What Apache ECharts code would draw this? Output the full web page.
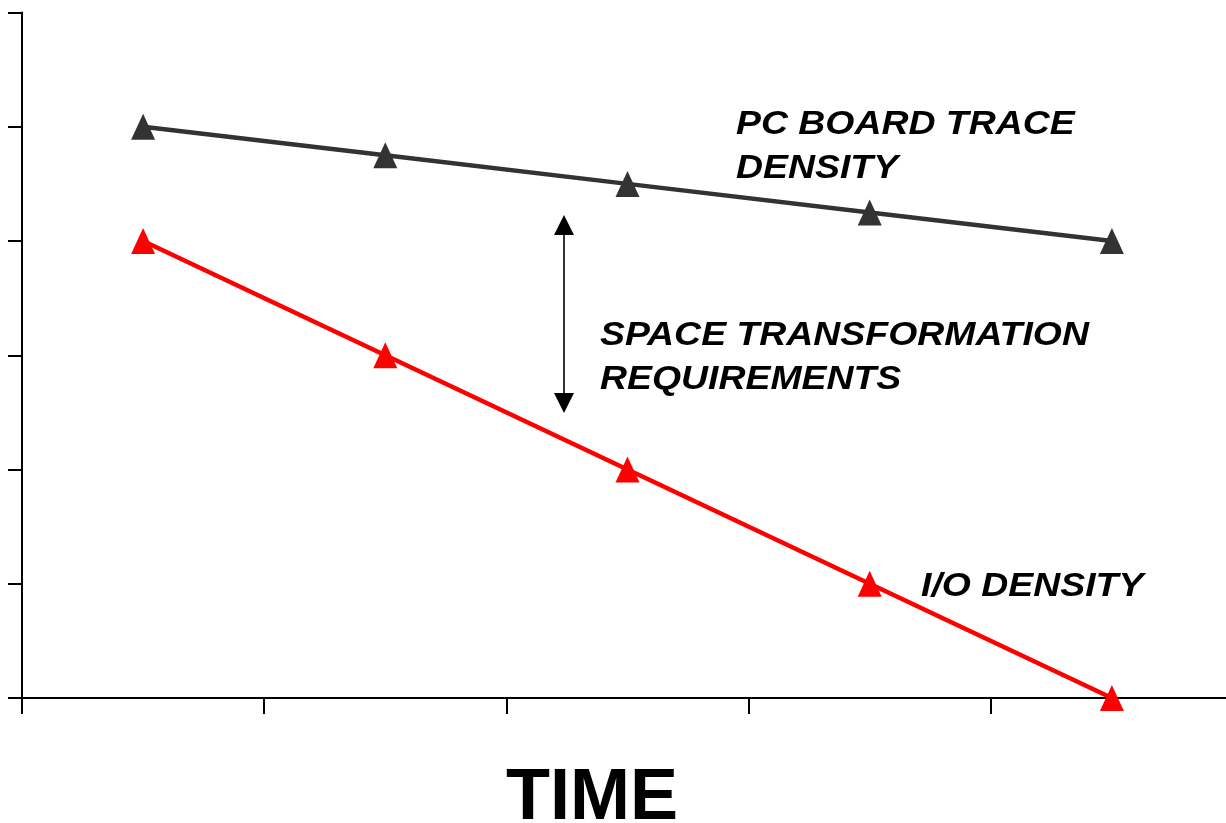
<!DOCTYPE html>
<html>
<head>
<meta charset="utf-8">
<script src="https://cdn.jsdelivr.net/npm/echarts@6/dist/echarts.min.js"></script>
<style>
html,body{margin:0;padding:0;background:#fff;overflow:hidden;}
#c{width:1226px;height:823px;}
</style>
</head>
<body>
<div id="c"></div>
<script>
const categories = ['T1', 'T2', 'T3', 'T4', 'T5'];
const pcBoardTraceDensity = [5, 4.75, 4.5, 4.25, 4];
const ioDensity = [4, 3, 2, 1, 0];
const yTicks = [0, 1, 2, 3, 4, 5, 6];
const pcLabelLines = ['PC BOARD TRACE', 'DENSITY'];
const spaceLabelLines = ['SPACE TRANSFORMATION', 'REQUIREMENTS'];
const ioLabel = 'I/O DENSITY';
const axisTitle = 'TIME';

const chart = echarts.init(document.getElementById('c'), null, {renderer: 'canvas'});

const labelFont = {fontFamily: 'Liberation Sans', fontWeight: 'bold', fontStyle: 'italic', fontSize: 34, fill: '#000'};
function lbl(text, x, y) {
  return {type: 'text', x: x, y: y, scaleX: 1.1, z: 100,
    style: Object.assign({text: text, textAlign: 'left', textVerticalAlign: 'middle'}, labelFont)};
}

const ax = 564, aTop = 215, aBot = 413, ah = 20, aw = 10;

chart.setOption({
  animation: false,
  backgroundColor: '#fff',
  grid: {left: 22, top: 12.5, bottom: 125, width: 1211, containLabel: false, outerBoundsMode: 'none'},
  xAxis: {
    type: 'category',
    data: categories,
    boundaryGap: true,
    axisLine: {show: true, onZero: true, lineStyle: {color: '#000', width: 2}},
    axisTick: {show: true, length: 16, inside: false, lineStyle: {color: '#000', width: 2}},
    axisLabel: {show: false},
    splitLine: {show: false}
  },
  yAxis: {
    type: 'value',
    min: yTicks[0],
    max: yTicks[yTicks.length - 1],
    interval: 1,
    axisLine: {show: true, lineStyle: {color: '#000', width: 2}},
    axisTick: {show: true, length: 14, inside: false, lineStyle: {color: '#000', width: 2}},
    axisLabel: {show: false},
    splitLine: {show: false}
  },
  series: [
    {
      name: 'PC BOARD TRACE DENSITY',
      type: 'line',
      data: pcBoardTraceDensity,
      symbol: 'triangle',
      symbolSize: [24, 26],
      lineStyle: {color: '#333333', width: 4.5},
      itemStyle: {color: '#333333'},
      z: 3
    },
    {
      name: 'I/O DENSITY',
      type: 'line',
      data: ioDensity,
      symbol: 'triangle',
      symbolSize: [24, 26],
      lineStyle: {color: '#ff0000', width: 4.5},
      itemStyle: {color: '#ff0000'},
      z: 4
    }
  ],
  graphic: [
    lbl(pcLabelLines[0], 736, 125),
    lbl(pcLabelLines[1], 736, 169),
    lbl(spaceLabelLines[0], 600, 336),
    lbl(spaceLabelLines[1], 600, 380),
    lbl(ioLabel, 921, 587),
    {type: 'text', x: 592, y: 799, z: 100,
      style: {text: axisTitle, fontFamily: 'Liberation Sans', fontWeight: 'bold', fontSize: 72, fill: '#000', textAlign: 'center', textVerticalAlign: 'middle'}},
    {type: 'line', z: 100, shape: {x1: ax, y1: aTop + ah - 2, x2: ax, y2: aBot - ah + 2}, style: {stroke: '#000', lineWidth: 1.6}},
    {type: 'polygon', z: 100, shape: {points: [[ax, aTop], [ax + aw, aTop + ah], [ax - aw, aTop + ah]]}, style: {fill: '#000'}},
    {type: 'polygon', z: 100, shape: {points: [[ax, aBot], [ax + aw, aBot - ah], [ax - aw, aBot - ah]]}, style: {fill: '#000'}}
  ]
});
</script>
</body>
</html>
